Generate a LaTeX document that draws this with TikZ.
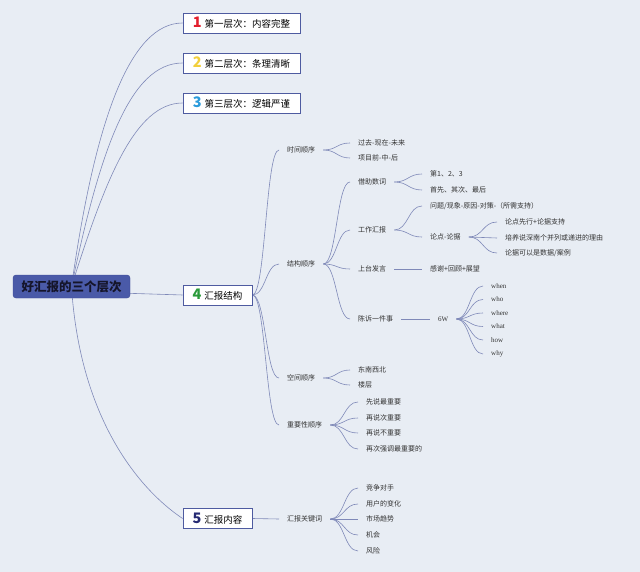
\documentclass[tikz,border=0pt]{standalone}
\usepackage{fontspec}
\setmainfont{Noto Sans CJK SC}
\newfontfamily\serifw{Liberation Serif}
\usetikzlibrary{calc,backgrounds}
\definecolor{bgc}{HTML}{E8EDF4}
\definecolor{linec}{HTML}{7F89B8}
\definecolor{boxc}{HTML}{4E5BA0}
\definecolor{rootc}{HTML}{4A5AA8}
\definecolor{rootd}{HTML}{3B4A95}
\definecolor{textc}{HTML}{333333}
\definecolor{roottext}{HTML}{15152A}
\definecolor{dA}{HTML}{E3202E}
\definecolor{dB}{HTML}{F2CF3C}
\definecolor{dC}{HTML}{2B9BDB}
\definecolor{dD}{HTML}{2A9A3A}
\definecolor{dE}{HTML}{262B73}
\pgfdeclarelayer{edges}
\pgfsetlayers{background,edges,main}
\newcommand\dg[2]{{\color{#1}\bfseries\fontsize{14.5}{14}\selectfont #2}\hspace{3pt}}
\newcommand\br[2]{\draw[link] let \p1=(#1.east), \p2=(#2.west) in (\p1) .. controls ({0.5*\x1+0.5*\x2},\y1) and ({0.5*\x1+0.5*\x2},\y2) .. (\p2);}
\begin{document}
\begin{tikzpicture}[x=1pt,y=-1pt,
  lvl/.style={draw=boxc, fill=white, line width=0.8pt, minimum height=20pt, inner xsep=4pt, inner ysep=0pt, font=\fontsize{9.5}{10}\selectfont, text=black},
  leaf/.style={inner xsep=8pt, inner ysep=1pt, anchor=west, font=\fontsize{7}{8}\selectfont, text=textc},
  wleaf/.style={leaf, font=\serifw\fontsize{7}{8}\selectfont},
  link/.style={draw=linec, line width=0.6pt}]
\begin{pgfonlayer}{background}
\fill[bgc] (0,0) rectangle (640,572);
\end{pgfonlayer}
\useasboundingbox (0,0) rectangle (640,572);

% root
\node[fill=rootc, draw=rootd, rounded corners=3pt, minimum width=117pt, minimum height=23pt, inner sep=0pt,
  font=\bfseries\fontsize{12.5}{13}\selectfont, text=roottext] (root) at (71.5,286.5) {好汇报的三个层次};

% level 1
\node[lvl, minimum width=117pt] (n1) at (241.5,23) {\dg{dA}{1}第一层次：内容完整};
\node[lvl, minimum width=117pt] (n2) at (241.5,63) {\dg{dB}{2}第二层次：条理清晰};
\node[lvl, minimum width=117pt] (n3) at (241.5,103) {\dg{dC}{3}第三层次：逻辑严谨};
\node[lvl, minimum width=69pt] (n4) at (217.5,295) {\dg{dD}{4}汇报结构};
\node[lvl, minimum width=69pt] (n5) at (217.5,518.5) {\dg{dE}{5}汇报内容};

% level 2
\node[leaf] (t1) at (279,150) {时间顺序};
\node[leaf] (t2) at (279,264) {结构顺序};
\node[leaf] (t3) at (279,378) {空间顺序};
\node[leaf] (t4) at (279,425) {重要性顺序};
\node[leaf] (k) at (279,519) {汇报关键词};

% level 3
\node[leaf] (a1) at (350,143) {过去-现在-未来};
\node[leaf] (a2) at (350,158) {项目前-中-后};
\node[leaf] (b1) at (350,182) {借助数词};
\node[leaf] (b2) at (350,230) {工作汇报};
\node[leaf] (b3) at (350,269) {上台发言};
\node[leaf] (b4) at (350,319) {陈诉一件事};
\node[leaf] (s1) at (350,370) {东南西北};
\node[leaf] (s2) at (350,385) {楼层};
\node[leaf] (i1) at (358,402) {先说最重要};
\node[leaf] (i2) at (358,418) {再说次重要};
\node[leaf] (i3) at (358,433) {再说不重要};
\node[leaf] (i4) at (358,449) {再次强调最重要的};
\node[leaf] (k1) at (358,488) {竞争对手};
\node[leaf] (k2) at (358,504) {用户的变化};
\node[leaf] (k3) at (358,519) {市场趋势};
\node[leaf] (k4) at (358,535) {机会};
\node[leaf] (k5) at (358,551) {风险};

% level 4
\node[leaf] (c1) at (422,174) {第1、2、3};
\node[leaf] (c2) at (422,190) {首先、其次、最后};
\node[leaf] (d1) at (422,206) {问题/现象-原因-对策-（所需支持）};
\node[leaf] (d2) at (422,237) {论点-论据};
\node[leaf] (f) at (422,269) {感谢+回顾+展望};
\node[wleaf] (g) at (430,319) {6W};

% level 5
\node[leaf] (e1) at (497,222) {论点先行+论据支持};
\node[leaf] (e2) at (497,238) {培养说深南个并列或递进的理由};
\node[leaf] (e3) at (497,253) {论据可以是数据/案例};
\node[wleaf] (w1) at (483,286) {when};
\node[wleaf] (w2) at (483,299.5) {who};
\node[wleaf] (w3) at (483,313) {where};
\node[wleaf] (w4) at (483,326.5) {what};
\node[wleaf] (w5) at (483,340) {how};
\node[wleaf] (w6) at (483,354) {why};

\begin{pgfonlayer}{edges}
\draw[link] (root.center) .. controls (95,120) and (130,23) .. (n1.west);
\draw[link] (root.center) .. controls (100,150) and (130,63) .. (n2.west);
\draw[link] (root.center) .. controls (105,180) and (135,103) .. (n3.west);
\draw[link] ([yshift=-5pt]root.center) -- (n4.west);
\draw[link] (root.center) .. controls (80,420) and (140,490) .. (n5.west);
\foreach \c in {t1,t2,t3,t4} {\br{n4}{\c}}
\draw[link] (n5.east) -- (k.west);
\foreach \c in {a1,a2} {\br{t1}{\c}}
\foreach \c in {b1,b2,b3,b4} {\br{t2}{\c}}
\foreach \c in {s1,s2} {\br{t3}{\c}}
\foreach \c in {i1,i2,i3,i4} {\br{t4}{\c}}
\foreach \c in {k1,k2,k3,k4,k5} {\br{k}{\c}}
\foreach \c in {c1,c2} {\br{b1}{\c}}
\foreach \c in {d1,d2} {\br{b2}{\c}}
\draw[link] (b3.east) -- (f.west);
\draw[link] (b4.east) -- (g.west);
\foreach \c in {e1,e2,e3} {\br{d2}{\c}}
\foreach \c in {w1,w2,w3,w4,w5,w6} {\br{g}{\c}}
\end{pgfonlayer}
\end{tikzpicture}
\end{document}
